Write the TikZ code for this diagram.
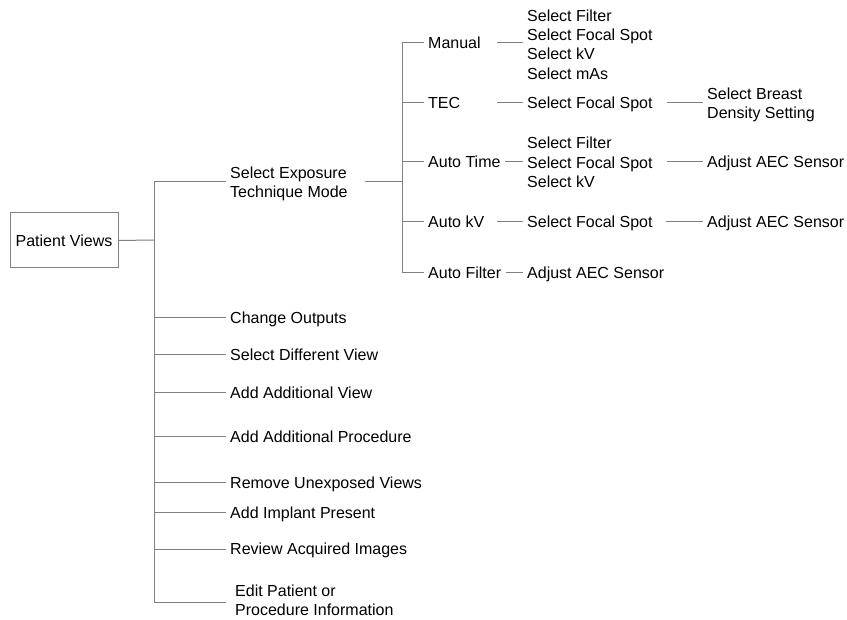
\documentclass[tikz,border=0pt]{standalone}
\usepackage{fontspec}
\setmainfont{Liberation Sans}
\definecolor{linegray}{RGB}{128,128,128}
\newcommand\mystrut{\rule[-3pt]{0pt}{18pt}}
\tikzset{
  conn/.style={draw=linegray, line width=1pt},
  lbl/.style={anchor=west, inner xsep=4.5pt, inner ysep=0pt, align=left,
    font=\fontsize{16}{19.4}\selectfont,
    execute at begin node=\mystrut},
  rootbox/.style={draw=linegray, line width=1pt, minimum width=108pt,
    minimum height=55pt, inner sep=0pt, font=\fontsize{16}{19.4}\selectfont}
}
\begin{document}
\begin{tikzpicture}[x=1pt,y=-1pt]
\useasboundingbox (0,0) rectangle (847,620);
% root
\node[rootbox] (pv) at (64,240.5) {Patient Views};
% trunk
\coordinate (tr0) at (154,240);
\coordinate (trA) at (154,182);
\coordinate (trB) at (154,318);
\coordinate (trC) at (154,355);
\coordinate (trD) at (154,393);
\coordinate (trE) at (154,437);
\coordinate (trF) at (154,483);
\coordinate (trG) at (154,513);
\coordinate (trH) at (154,549);
\coordinate (trI) at (154,602);
% level 1
\node[lbl] (exp)  at (225.5,184) {Select Exposure\\Technique Mode\mystrut};
\node[lbl] (out)  at (225.5,318) {Change Outputs\mystrut};
\node[lbl] (dif)  at (225.5,355) {Select Different View\mystrut};
\node[lbl] (addv) at (225.5,393) {Add Additional View\mystrut};
\node[lbl] (addp) at (225.5,437) {Add Additional Procedure\mystrut};
\node[lbl] (rem)  at (225.5,483) {Remove Unexposed Views\mystrut};
\node[lbl] (imp)  at (225.5,513) {Add Implant Present\mystrut};
\node[lbl] (rev)  at (225.5,549) {Review Acquired Images\mystrut};
\node[lbl, inner xsep=9.5pt] (edit) at (225.5,602) {Edit Patient or\\Procedure Information\mystrut};
% level 2
\coordinate (x1) at (365,182);
\coordinate (vA) at (402,43);
\coordinate (vB) at (402,103);
\coordinate (vC) at (402,162);
\coordinate (vD) at (402,222);
\coordinate (vE) at (402,273);
\coordinate (vX) at (402,182);
\node[lbl] (man)   at (423.5,43)  {Manual\mystrut};
\node[lbl] (tec)   at (423.5,103) {TEC\mystrut};
\node[lbl] (atime) at (423.5,162) {Auto Time\mystrut};
\node[lbl] (akv)   at (423.5,222) {Auto kV\mystrut};
\node[lbl] (afil)  at (423.5,273) {Auto Filter\mystrut};
% level 3
\coordinate (m3) at (497,43);
\coordinate (t3) at (497,103);
\coordinate (k3) at (497,222);
\node[lbl] (mgrp) at (522.5,46)  {Select Filter\\Select Focal Spot\\Select kV\\Select mAs\mystrut};
\node[lbl] (tfs)  at (522.5,103) {Select Focal Spot\mystrut};
\node[lbl] (agrp) at (522.5,164) {Select Filter\\Select Focal Spot\\Select kV\mystrut};
\node[lbl] (kfs)  at (522.5,222) {Select Focal Spot\mystrut};
\node[lbl] (faec) at (522.5,273) {Adjust AEC Sensor\mystrut};
% level 4
\coordinate (t4) at (667,103);
\coordinate (a4) at (667,162);
\coordinate (k4) at (666,222);
\node[lbl] (bds)  at (702.5,105) {Select Breast\\Density Setting\mystrut};
\node[lbl] (aaec) at (702.5,162) {Adjust AEC Sensor\mystrut};
\node[lbl] (kaec) at (702.5,222) {Adjust AEC Sensor\mystrut};
% connectors
\draw[conn] (pv.east) -- (tr0);
\draw[conn] (trA) -- (trI);
\draw[conn] (trA) -- (trA -| exp.west);
\draw[conn] (trB) -- (out.west);
\draw[conn] (trC) -- (dif.west);
\draw[conn] (trD) -- (addv.west);
\draw[conn] (trE) -- (addp.west);
\draw[conn] (trF) -- (rem.west);
\draw[conn] (trG) -- (imp.west);
\draw[conn] (trH) -- (rev.west);
\draw[conn] (trI) -- (trI -| edit.west);
\draw[conn] (x1) -- (vX);
\draw[conn] (vA) -- (vE);
\draw[conn] (vA) -- (man.west);
\draw[conn] (vB) -- (tec.west);
\draw[conn] (vC) -- (atime.west);
\draw[conn] (vD) -- (akv.west);
\draw[conn] (vE) -- (afil.west);
\draw[conn] (m3) -- (m3 -| mgrp.west);
\draw[conn] (t3) -- (tfs.west);
\draw[conn] (atime.east) -- (atime.east -| agrp.west);
\draw[conn] (k3) -- (kfs.west);
\draw[conn] (afil.east) -- (faec.west);
\draw[conn] (t4) -- (t4 -| bds.west);
\draw[conn] (a4) -- (aaec.west);
\draw[conn] (k4) -- (kaec.west);
\end{tikzpicture}
\end{document}
